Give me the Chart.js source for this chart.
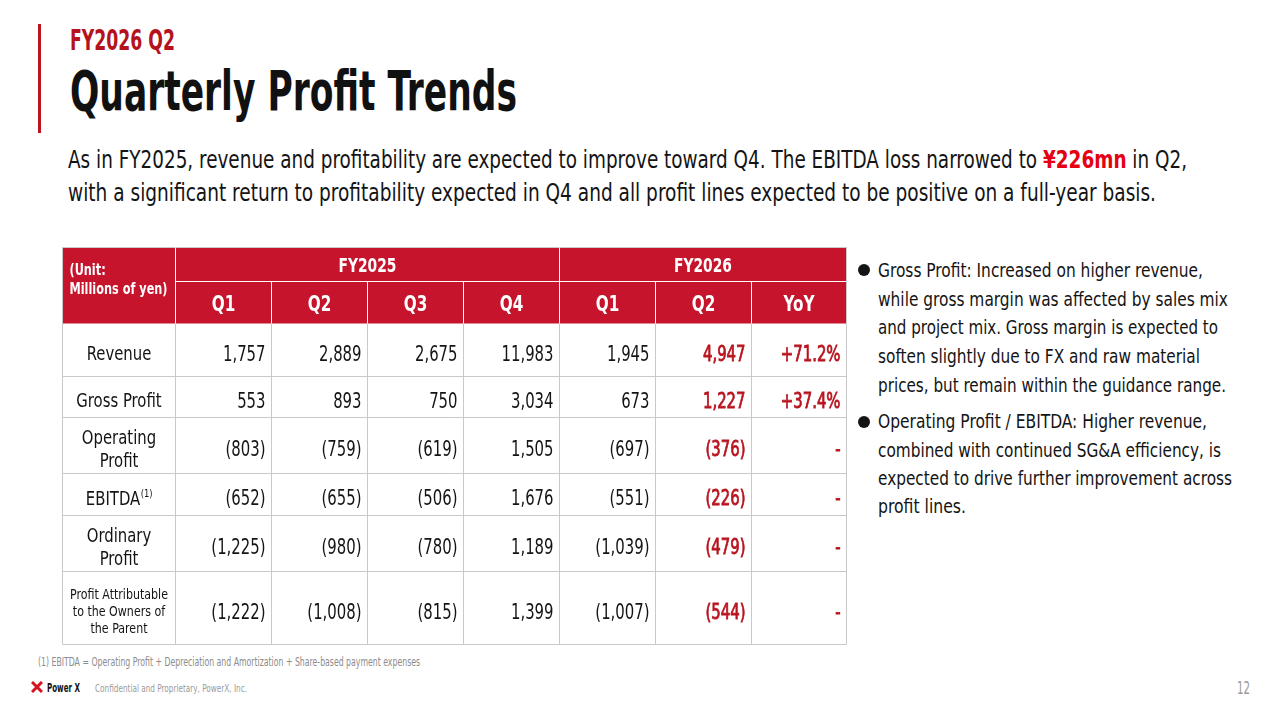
<!DOCTYPE html>
<html>
<head>
<meta charset="utf-8">
<title>Quarterly Profit Trends</title>
<script src="https://cdn.jsdelivr.net/npm/chart.js@4.4.1/dist/chart.umd.min.js"></script>
<style>
  html, body { margin: 0; padding: 0; background: #fff; }
  #slide { position: relative; width: 1280px; height: 720px; overflow: hidden; background: #fff; color: #141414; }
  .t { position: absolute; white-space: nowrap; line-height: 1; transform-origin: 0 0; }
  .red { color: #e50012; font-weight: 700; }
  .dot { position: absolute; width: 12px; height: 12px; border-radius: 50%; background: #141414; }
</style>
</head>
<body>
<div id="slide">
  <div style="position:absolute;left:38px;top:24px;width:3px;height:109px;background:#c0141c"></div>
  <div class="t" data-x="70" data-b="50" data-fs="28" data-w="105" style="color:#b5121b;font-weight:700">FY2026 Q2</div>
  <div class="t" data-x="70" data-b="110" data-fs="56" data-w="447" style="font-weight:700;color:#111">Quarterly Profit Trends</div>

  <div class="t" data-x="68" data-b="168" data-fs="25" data-w="1119">As in FY2025, revenue and profitability are expected to improve toward Q4. The EBITDA loss narrowed to <span class="red">¥226mn</span> in Q2,</div>
  <div class="t" data-x="68" data-b="201" data-fs="25" data-w="1088">with a significant return to profitability expected in Q4 and all profit lines expected to be positive on a full-year basis.</div>

  <div class="dot" style="left:858px;top:264px"></div>
  <div class="t" data-x="878" data-b="277" data-fs="20" data-w="325">Gross Profit: Increased on higher revenue,</div>
  <div class="t" data-x="878" data-b="306" data-fs="20" data-w="350">while gross margin was affected by sales mix</div>
  <div class="t" data-x="878" data-b="334" data-fs="20" data-w="340">and project mix. Gross margin is expected to</div>
  <div class="t" data-x="878" data-b="363" data-fs="20" data-w="322">soften slightly due to FX and raw material</div>
  <div class="t" data-x="878" data-b="392" data-fs="20" data-w="348">prices, but remain within the guidance range.</div>
  <div class="dot" style="left:858px;top:416px"></div>
  <div class="t" data-x="878" data-b="428" data-fs="20" data-w="329">Operating Profit / EBITDA: Higher revenue,</div>
  <div class="t" data-x="878" data-b="457" data-fs="20" data-w="343">combined with continued SG&amp;A efficiency, is</div>
  <div class="t" data-x="878" data-b="485" data-fs="20" data-w="354">expected to drive further improvement across</div>
  <div class="t" data-x="878" data-b="513" data-fs="20" data-w="88">profit lines.</div>

  <canvas id="tbl" width="790" height="402" style="position:absolute;left:60px;top:245px;width:790px;height:402px"></canvas>

  <div class="t" data-x="38" data-b="666" data-fs="12" data-w="382" style="color:#8c8c8c">(1) EBITDA = Operating Profit + Depreciation and Amortization + Share-based payment expenses</div>

  <svg style="position:absolute;left:31px;top:681px" width="12" height="12" viewBox="0 0 12 12">
    <path d="M1 1 L11 11 M11 1 L1 11" stroke="#d7141e" stroke-width="3" stroke-linecap="butt"/>
  </svg>
  <div class="t" data-x="47" data-b="692" data-fs="13" data-w="33" style="font-weight:700;color:#111">Power X</div>
  <div class="t" data-x="95" data-b="692" data-fs="10" data-w="152" style="color:#9a9a9a">Confidential and Proprietary, PowerX, Inc.</div>
  <div class="t" data-x="1237" data-b="694" data-fs="17" data-w="13" style="color:#9a9a9a">12</div>
</div>

<script>
// ---- table data ----
const fiscalYears = ['FY2025', 'FY2026'];
const quarterLabels = ['Q1', 'Q2', 'Q3', 'Q4', 'Q1', 'Q2', 'YoY'];
const unitLabel = ['(Unit:', 'Millions of yen)'];
const metricLabels = [
  ['Revenue'],
  ['Gross Profit'],
  ['Operating', 'Profit'],
  ['EBITDA'],
  ['Ordinary', 'Profit'],
  ['Profit Attributable', 'to the Owners of', 'the Parent']
];
const metricNotes = ['', '', '', '(1)', '', ''];
const fy2025Q1 = [1757, 553, -803, -652, -1225, -1222];
const fy2025Q2 = [2889, 893, -759, -655, -980, -1008];
const fy2025Q3 = [2675, 750, -619, -506, -780, -815];
const fy2025Q4 = [11983, 3034, 1505, 1676, 1189, 1399];
const fy2026Q1 = [1945, 673, -697, -551, -1039, -1007];
const fy2026Q2 = [4947, 1227, -376, -226, -479, -544];
const yoyChange = ['+71.2%', '+37.4%', '-', '-', '-', '-'];

// ---- layout (page pixels) ----
const colEdges = [62, 175, 271, 367, 463, 559, 655, 751, 846];
const rowEdges = [247, 281, 323, 376, 417, 473, 515, 571, 644];

const HEAD_RED = '#c5142b';
const VALUE_RED = '#b8141e';
const GRID = '#c9c9c9';

// pick a narrow face if one is installed
function pickFont(cands) {
  const c = document.createElement('canvas').getContext('2d');
  const s = 'Quarterly Profit Trends 0123456789';
  c.font = '40px monospace';
  const base = c.measureText(s).width;
  for (const f of cands) {
    c.font = `40px "${f}", monospace`;
    if (Math.abs(c.measureText(s).width - base) > 1) return f;
  }
  return 'Roboto';
}
const FONT = pickFont(['Liberation Sans Narrow', 'DejaVu Sans Condensed', 'Roboto Condensed', 'Arial Narrow', 'Roboto']);
document.body.style.fontFamily = `"${FONT}", "Liberation Sans", sans-serif`;

// place html text lines on their baselines and fit them to the measured widths
(function placeText() {
  const m = document.createElement('canvas').getContext('2d');
  document.querySelectorAll('.t').forEach(el => {
    const fs = +el.dataset.fs;
    m.font = `${fs}px "${FONT}"`;
    const tm = m.measureText('Hg');
    const A = tm.fontBoundingBoxAscent, D = tm.fontBoundingBoxDescent;
    el.style.fontSize = fs + 'px';
    el.style.left = el.dataset.x + 'px';
    el.style.top = (+el.dataset.b - ((fs - A - D) / 2 + A)) + 'px';
    const w = el.getBoundingClientRect().width;
    if (el.dataset.w && w > 0) el.style.transform = `scaleX(${(+el.dataset.w / w).toFixed(4)})`;
  });
})();

function fmt(v) {
  const s = Math.abs(v).toLocaleString('en-US');
  return v < 0 ? `(${s})` : s;
}

const tablePlugin = {
  id: 'quarterTable',
  afterDraw(chart) {
    const { ctx, scales: { x, y } } = chart;
    const cx = colEdges.map(v => Math.round(x.getPixelForValue(v)) + 0.5);
    const ry = rowEdges.map(v => Math.round(y.getPixelForValue(v)) + 0.5);

    ctx.save();
    // squeeze factors so the fallback font keeps the condensed look of the slide
    const squeeze = (font, sample, target) => {
      ctx.font = font;
      return Math.min(1, target / ctx.measureText(sample).width);
    };
    const sqLabel = squeeze(`14.5px "${FONT}"`, 'Profit Attributable', 98);
    const sqNum = squeeze(`22px "${FONT}"`, '11,983', 52);
    const sqHead = squeeze(`700 20px "${FONT}"`, 'FY2025', 58);
    const sqUnit = squeeze(`700 16px "${FONT}"`, 'Millions of yen)', 98);

    const text = (t, px, py, align, font, color, sq, medium) => {
      ctx.save();
      ctx.font = font;
      ctx.fillStyle = color;
      ctx.textAlign = align;
      ctx.textBaseline = 'alphabetic';
      ctx.translate(px, py);
      ctx.scale(sq, 1);
      ctx.fillText(t, 0, 0);
      if (medium) {
        ctx.strokeStyle = color;
        ctx.lineWidth = 0.8;
        ctx.strokeText(t, 0, 0);
      }
      ctx.restore();
    };
    const line = (x1, y1, x2, y2, c) => {
      ctx.strokeStyle = c;
      ctx.lineWidth = 1;
      ctx.beginPath();
      ctx.moveTo(x1, y1);
      ctx.lineTo(x2, y2);
      ctx.stroke();
    };
    // baseline that puts the cap height centred on cy
    const base = (cy, fs) => cy + fs * 0.36;

    // backgrounds
    ctx.fillStyle = '#fff';
    ctx.fillRect(cx[0], ry[2], cx[8] - cx[0], ry[8] - ry[2]);
    ctx.fillStyle = HEAD_RED;
    ctx.fillRect(cx[0], ry[0], cx[8] - cx[0], ry[2] - ry[0]);

    // body grid
    for (let r = 3; r <= 8; r++) line(cx[0], ry[r], cx[8], ry[r], GRID);
    for (let c = 0; c <= 8; c++) line(cx[c], ry[2], cx[c], ry[8], GRID);
    line(cx[0], ry[0], cx[8], ry[0], GRID);
    line(cx[0], ry[0], cx[0], ry[2], GRID);
    line(cx[8], ry[0], cx[8], ry[2], GRID);

    // header separators
    line(cx[1], ry[0], cx[1], ry[2], '#fff');
    line(cx[5], ry[0], cx[5], ry[2], '#fff');
    line(cx[1], ry[1], cx[8], ry[1], '#fff');
    [2, 3, 4, 6, 7].forEach(c => line(cx[c], ry[1], cx[c], ry[2], '#fff'));

    // header text
    const headMid = (ry[0] + ry[2]) / 2;
    unitLabel.forEach((t, i) => text(t, cx[0] + 7, base(headMid - 16 + i * 19, 16), 'left', `700 16px "${FONT}"`, '#fff', sqUnit));
    const fyMid = (ry[0] + ry[1]) / 2;
    text(fiscalYears[0], (cx[1] + cx[5]) / 2, base(fyMid, 20), 'center', `700 20px "${FONT}"`, '#fff', sqHead);
    text(fiscalYears[1], (cx[5] + cx[8]) / 2, base(fyMid, 20), 'center', `700 20px "${FONT}"`, '#fff', sqHead);
    const qMid = (ry[1] + ry[2]) / 2 + 1;
    quarterLabels.forEach((q, i) => text(q, (cx[i + 1] + cx[i + 2]) / 2, base(qMid, 22), 'center', `700 22px "${FONT}"`, '#fff', sqHead));

    // body
    const series = [fy2025Q1, fy2025Q2, fy2025Q3, fy2025Q4, fy2026Q1, fy2026Q2];
    metricLabels.forEach((lines, r) => {
      const mid = (ry[r + 2] + ry[r + 3]) / 2 + 3;
      const small = lines.length > 2;
      const fs = small ? 14.5 : 19.5;
      const lh = small ? 17 : 23;
      const lx = (cx[0] + cx[1]) / 2;
      lines.forEach((t, i) => {
        const by = base(mid + (i - (lines.length - 1) / 2) * lh, fs);
        if (metricNotes[r]) {
          ctx.font = `${fs}px "${FONT}"`;
          const w1 = ctx.measureText(t).width * sqLabel;
          ctx.font = `11px "${FONT}"`;
          const w2 = ctx.measureText(metricNotes[r]).width * sqLabel;
          const start = lx - (w1 + w2) / 2;
          text(t, start, by, 'left', `${fs}px "${FONT}"`, '#141414', sqLabel);
          text(metricNotes[r], start + w1 + 0.5, by - 8, 'left', `11px "${FONT}"`, '#141414', sqLabel);
        } else {
          text(t, lx, by, 'center', `${fs}px "${FONT}"`, '#141414', sqLabel);
        }
      });
      series.forEach((vals, c) => {
        const hi = c === series.length - 1;
        text(fmt(vals[r]), cx[c + 2] - 6, base(mid, 22), 'right', `22px "${FONT}"`,
          hi ? VALUE_RED : '#141414', sqNum, hi);
      });
      text(yoyChange[r], cx[8] - 6, base(mid, 22), 'right', `22px "${FONT}"`, VALUE_RED, sqNum, true);
    });
    ctx.restore();
  }
};

new Chart(document.getElementById('tbl'), {
  type: 'scatter',
  data: { datasets: [{ data: [], pointRadius: 0 }] },
  options: {
    responsive: false,
    animation: false,
    events: [],
    layout: { padding: 0 },
    plugins: { legend: { display: false }, tooltip: { enabled: false } },
    scales: {
      x: { type: 'linear', min: 60, max: 850, display: false },
      y: { type: 'linear', min: 245, max: 647, reverse: true, display: false }
    }
  },
  plugins: [tablePlugin]
});
</script>
</body>
</html>
